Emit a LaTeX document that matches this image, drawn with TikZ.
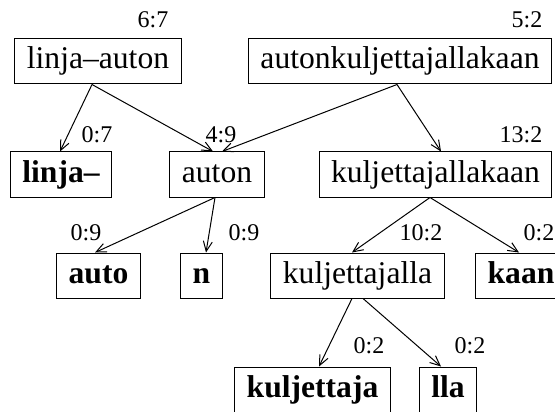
\documentclass[tikz,border=0pt]{standalone}
\usepackage{fontspec}
\setmainfont{Liberation Serif}
\usetikzlibrary{arrows.meta}
\tikzset{
    wort/.style={draw, line width=0.5pt, inner xsep=6pt, inner ysep=4pt,
        text height=11pt, text depth=3.5pt, font=\fontsize{15.8}{19}\selectfont},
    stamm/.style={wort, font=\fontsize{15.8}{19}\selectfont\bfseries},
    zahl/.style={font=\fontsize{12}{14}\selectfont},
    kante/.style={line width=0.5pt, -{Straight Barb[length=5pt,width=4.5pt]}}
}
\begin{document}
\begin{tikzpicture}[x=0.5pt,y=-0.5pt]
    % Bildgroesse festlegen (Koordinaten wie Pixel, y nach unten):
    \useasboundingbox (0,0) rectangle (555,411);
    \clip (0,0) rectangle (555,411);
    % Die Woerter der ersten Ebene:
    \node[wort] (la) at (98,61.5) {linja--auton};
    \node[wort] (ak) at (400,61.5) {autonkuljettajallakaan};
    % zweite Ebene
    \node[stamm] (lj) at (61,174.5) {linja--};
    \node[wort] (au) at (217,174.5) {auton};
    \node[wort] (kk) at (435.5,174.5) {kuljettajallakaan};
    % dritte Ebene
    \node[stamm] (ao) at (98.5,275.5) {auto};
    \node[stamm] (n) at (201.5,275.5) {n};
    \node[wort] (kj) at (357.5,275.5) {kuljettajalla};
    \node[stamm] (ka) at (521,275.5) {kaan};
    % unterste Ebene
    \node[stamm] (kt) at (312.5,389.5) {kuljettaja};
    \node[stamm] (ll) at (448,389.5) {lla};
    % Die Zahlen stehen jeweils rechts oberhalb der Kaesten:
    \node[zahl] (z1) at (153,20) {6:7};
    \node[zahl] (z2) at (527,20) {5:2};
    \node[zahl] (z3) at (97,135) {0:7};
    \node[zahl] (z4) at (221,135) {4:9};
    \node[zahl] (z5) at (521,135) {13:2};
    \node[zahl] (z6) at (86,233) {0:9};
    \node[zahl] (z7) at (244,233) {0:9};
    \node[zahl] (z8) at (421,233) {10:2};
    \node[zahl] (z9) at (539,233) {0:2};
    \node[zahl] (z10) at (369,346) {0:2};
    \node[zahl] (z11) at (470,346) {0:2};
    % Die Pfeile, nicht ganz mittig (wie im Original):
    \draw[kante] ([xshift=-3pt]la.south) -- ([xshift=-0.5pt]lj.north);
    \draw[kante] ([xshift=-3pt]la.south) -- ([xshift=-2pt]au.north);
    \draw[kante] ([xshift=-1.5pt]ak.south) -- ([xshift=2.5pt]au.north);
    \draw[kante] ([xshift=-1.5pt]ak.south) -- ([xshift=2.75pt]kk.north);
    \draw[kante] ([xshift=-1pt]au.south) -- ([xshift=-1.75pt]ao.north);
    \draw[kante] ([xshift=-1pt]au.south) -- ([xshift=2.25pt]n.north);
    \draw[kante] ([xshift=-2.75pt]kk.south) -- ([xshift=-2.75pt]kj.north);
    \draw[kante] ([xshift=-2.75pt]kk.south) -- ([xshift=-1pt]ka.north);
    \draw[kante] ([xshift=-2.75pt]kj.south) -- ([xshift=3.25pt]kt.north);
    \draw[kante] ([xshift=2.75pt]kj.south) -- ([xshift=-3.5pt]ll.north);
\end{tikzpicture}
\end{document}
